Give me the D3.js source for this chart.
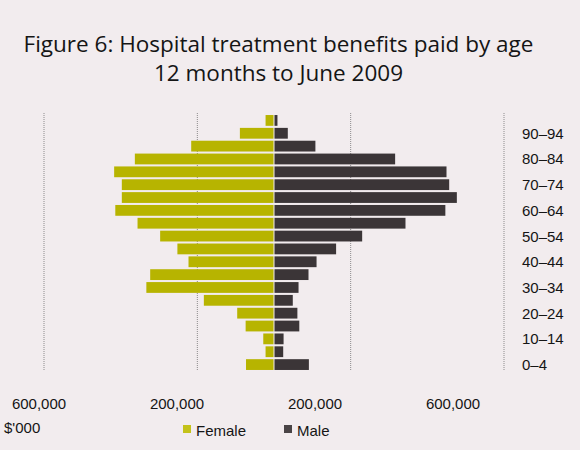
<!DOCTYPE html>
<html>
<head>
<meta charset="utf-8">
<script src="https://cdn.jsdelivr.net/npm/d3@7/dist/d3.min.js"></script>
<style>
  html, body { margin: 0; padding: 0; background: #f2ecee; }
  svg { display: block; }
</style>
</head>
<body>
<svg id="chart" width="580" height="450"></svg>
<script>
// ---- Data (bottom to top) ----
const ageGroups = ["0–4","5–9","10–14","15–19","20–24","25–29","30–34","35–39","40–44","45–49",
                   "50–54","55–59","60–64","65–69","70–74","75–79","80–84","85–89","90–94","95–99"];
const femaleValues = [73000, 22000, 28000, 74000, 96000, 183000, 333000, 323000, 223000, 252000,
                      297000, 356000, 414000, 397000, 397000, 417000, 363000, 216000, 89000, 22000];
const maleValues   = [91000, 24000, 25000, 66000, 61000, 49000, 64000, 90000, 111000, 162000,
                      230000, 343000, 447000, 477000, 457000, 450000, 316000, 108000, 36000, 9000];
const ageTickLabels = ["0–4","10–14","20–24","30–34","40–44","50–54","60–64","70–74","80–84","90–94"];
const valueTicks = [-600000, -200000, 200000, 600000];
const seriesNames = ["Female", "Male"];
const titleLines = ["Figure 6: Hospital treatment benefits paid by age", "12 months to June 2009"];
const unitLabel = "$'000";

// ---- Drawing ----
const svg = d3.select("#chart");
const femaleColor = "#b7b400";
const maleColor = "#3b3537";
const textColor = "#151515";

const x = d3.scaleLinear().domain([-600000, 600000]).range([44, 504]);
const xLabel = d3.scaleLinear().domain([-600000, 600000]).range([39, 453]);
const y = d3.scaleBand().domain(ageGroups.slice().reverse()).range([114, 371])
  .paddingInner(0.16).paddingOuter(0.08);

// Title
svg.append("g").selectAll("text").data(titleLines).join("text")
  .attr("x", 278.5).attr("y", (d, i) => 52 + i * 29)
  .attr("text-anchor", "middle")
  .attr("font-family", "'Open Sans', sans-serif")
  .attr("font-size", 22.5)
  .attr("fill", textColor)
  .text(d => d);

// Gridlines
svg.append("g").selectAll("line").data(valueTicks).join("line")
  .attr("x1", d => x(d)).attr("x2", d => x(d))
  .attr("y1", 113).attr("y2", 371)
  .attr("stroke", "#8c8a8b").attr("stroke-width", 1)
  .attr("stroke-dasharray", "1,1");

// Female bars (left)
svg.append("g").selectAll("rect").data(ageGroups).join("rect")
  .attr("x", (d, i) => x(-femaleValues[i]))
  .attr("y", d => y(d))
  .attr("width", (d, i) => x(0) - 0.5 - x(-femaleValues[i]))
  .attr("height", y.bandwidth())
  .attr("fill", femaleColor);

// Male bars (right)
svg.append("g").selectAll("rect").data(ageGroups).join("rect")
  .attr("x", x(0) + 0.5)
  .attr("y", d => y(d))
  .attr("width", (d, i) => x(maleValues[i]) - x(0) - 0.5)
  .attr("height", y.bandwidth())
  .attr("fill", maleColor);

// Age labels (right)
svg.append("g").selectAll("text").data(ageTickLabels).join("text")
  .attr("x", 522)
  .attr("y", d => y(d) + y.bandwidth() / 2 + 5.5)
  .attr("font-family", "'Liberation Sans', Arial, sans-serif")
  .attr("font-size", 15)
  .attr("fill", textColor)
  .text(d => d);

// Value labels (bottom)
const fmt = d3.format(",");
svg.append("g").selectAll("text").data(valueTicks).join("text")
  .attr("x", d => xLabel(d))
  .attr("y", 409)
  .attr("text-anchor", "middle")
  .attr("font-family", "'Liberation Sans', Arial, sans-serif")
  .attr("font-size", 15)
  .attr("fill", textColor)
  .text(d => fmt(Math.abs(d)));

svg.append("text")
  .attr("x", 4).attr("y", 433)
  .attr("font-family", "'Liberation Sans', Arial, sans-serif")
  .attr("font-size", 15)
  .attr("fill", textColor)
  .text(unitLabel);

// Legend
const legendX = [183, 284];
const legendColors = ["#c4c21a", "#4a4446"];
const lg = svg.append("g").selectAll("g").data(seriesNames).join("g")
  .attr("transform", (d, i) => `translate(${legendX[i]},0)`);
lg.append("rect").attr("x", 0).attr("y", 425).attr("width", 8).attr("height", 8)
  .attr("fill", (d, i) => legendColors[i]);
lg.append("text").attr("x", 13).attr("y", 436)
  .attr("font-family", "'Liberation Sans', Arial, sans-serif")
  .attr("font-size", 15)
  .attr("fill", textColor)
  .text(d => d);
</script>
</body>
</html>
